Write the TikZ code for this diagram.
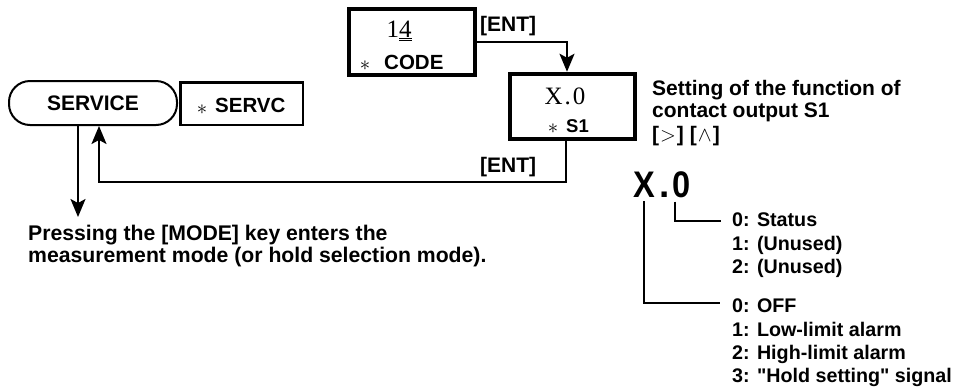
\documentclass[tikz,border=0pt]{standalone}
\usepackage{fontspec}
\setmainfont{Liberation Sans}
\newfontfamily\serif{Liberation Serif}
\newfontfamily\qfont{Liberation Sans}[Ligatures=TeXOff]
\usetikzlibrary{arrows.meta}
\begin{document}
\begin{tikzpicture}[x=1pt,y=-1pt,
  arr/.style={-{Stealth[length=18pt,width=15pt,inset=4pt]}, line width=2pt},
  ln/.style={line width=2pt},
  lbl/.style={font=\fontsize{21}{23}\selectfont\bfseries, inner sep=0pt},
  lst/.style={font=\fontsize{19.7}{23}\selectfont\bfseries, inner sep=0pt, anchor=base west},
  sv/.style={font=\serif\fontsize{25}{25}\selectfont, inner sep=0pt, anchor=base},
  thickbox/.style={draw, line width=4.5pt, minimum width=126pt, minimum height=66pt, inner sep=0pt},
  ast/.style={font=\fontsize{21}{21}\selectfont, inner sep=0pt, anchor=base},
  big/.style={inner sep=0pt, anchor=base, font=\fontsize{37}{37}\selectfont\bfseries},
]
\useasboundingbox (0,0) rectangle (968,389);

% CODE box
\node[thickbox] (code) at (412,42) {};
\node[sv] (codeval) at (399,37) {1\underline{\underline{4}}};
\node[ast] (codeast) at (365,70) {$\ast$};
\node[lbl, anchor=base west, font=\fontsize{20.5}{23}\selectfont\bfseries] (codelbl) at (384,69) {CODE};
\node[lbl, anchor=base west] (ent1) at (480,31) {[ENT]};

% S1 box
\node[thickbox, minimum width=125pt, minimum height=65pt] (s1) at (572.5,106.5) {};
\node[sv] (s1val) at (565,104) {X\kern2pt.\kern2pt0};
\node[ast] (s1ast) at (553,133) {$\ast$};
\node[lbl, anchor=base west, font=\fontsize{18.5}{20}\selectfont\bfseries] (s1lbl) at (566,132) {S1};
\node[lbl, anchor=base west] (ent2) at (480,172) {[ENT]};

% SERVICE
\node[draw, line width=2pt, rounded corners=21pt, minimum width=168pt, minimum height=44pt,
      font=\fontsize{21}{21}\selectfont\bfseries] (service) at (93,103) {SERVICE\hspace{8pt}};
\node[draw, line width=2.5pt, minimum width=122.5pt, minimum height=42.5pt, inner sep=0pt] (servc) at (241.5,103.5) {};
\node[ast] (servcast) at (202,114) {$\ast$};
\node[lbl, anchor=base west, font=\fontsize{20.5}{23}\selectfont\bfseries] (servclbl) at (215,112.7) {SERVC};

% connectors
\draw[arr] (code.east) -| ([xshift=-5.5pt]s1.north);
\coordinate (ret) at (0,182);
\draw[arr] ([xshift=-6.5pt]s1.south) -- ([xshift=-6.5pt]s1.south |- ret) -| ([xshift=6pt]service.south);
\coordinate (down) at (78,217);
\draw[arr] ([xshift=-15pt]service.south) -- (down);

% texts
\node[lbl, anchor=base west, font=\fontsize{21.2}{22}\selectfont\bfseries] (press1) at (28,240) {Pressing the [MODE] key enters the};
\node[lbl, anchor=base west, font=\fontsize{21.2}{22}\selectfont\bfseries] (press2) at (28,262) {measurement mode (or hold selection mode).};

\node[lbl, anchor=base west] (set1) at (652,95) {Setting of the function of};
\node[lbl, anchor=base west] (set2) at (652,117) {contact output S1};
\node[lbl, anchor=base west] (set3) at (652,141) {[\kern1pt{\normalfont$>$}\kern1pt]\kern6pt[\kern1pt{\normalfont$\wedge$}\kern1pt]};

% big X.0
\node[big] (bigX) at (644,197) {\scalebox{0.88}[1]{X}};
\node[big] (bigdot) at (665,197) {.};
\node[big] (bigzero) at (682,197) {\scalebox{0.88}[1]{0}};

\node[lst] (st0) at (732,226) {0: Status};
\node[lst] (st1) at (732,250) {1: (Unused)};
\node[lst] (st2) at (732,273) {2: (Unused)};
\node[lst] (of0) at (732,312) {0: OFF};
\node[lst] (of1) at (732,336) {1: Low-limit alarm};
\node[lst] (of2) at (732,359) {2: High-limit alarm};
\node[lst, font=\qfont\fontsize{19.7}{23}\selectfont\bfseries] (of3) at (732,382) {3: "Hold setting" signal};

\draw[ln] ([xshift=-7pt,yshift=-4pt]bigzero.south) |- ([xshift=-11pt,yshift=5pt]st0.base west);
\draw[ln] ([yshift=-4pt]bigX.south) |- ([xshift=-12pt,yshift=9.5pt]of0.base west);
\end{tikzpicture}
\end{document}
